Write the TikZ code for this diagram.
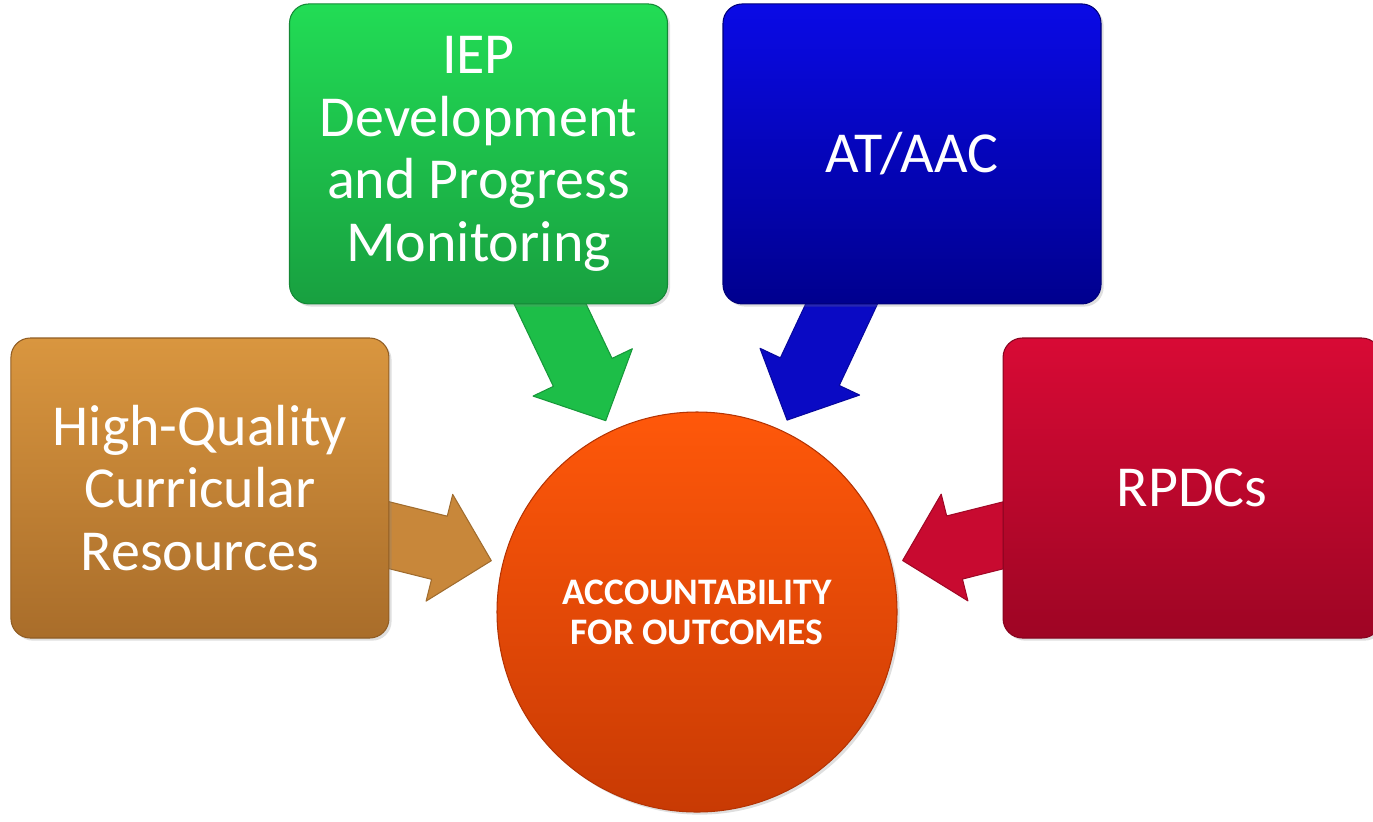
\documentclass[tikz,border=0pt]{standalone}
\usepackage{fontspec}
\setmainfont{Carlito}
\usetikzlibrary{positioning,calc,shadows,backgrounds}
\definecolor{hqtop}{HTML}{D9963F}
\definecolor{hqbot}{HTML}{A96D2A}
\definecolor{hqarrow}{HTML}{C8873A}
\definecolor{iephtop}{HTML}{22DC55}
\definecolor{iepbot}{HTML}{18A040}
\definecolor{ieparrow}{HTML}{1DBE48}
\definecolor{attop}{HTML}{0A0AE6}
\definecolor{atbot}{HTML}{00008E}
\definecolor{atarrow}{HTML}{0A0AC4}
\definecolor{rptop}{HTML}{D80A35}
\definecolor{rpbot}{HTML}{9E0524}
\definecolor{rparrow}{HTML}{C80A30}
\definecolor{goaltop}{HTML}{FF580A}
\definecolor{goalbot}{HTML}{C83A04}
\tikzset{
  topic/.style={
    draw, rounded corners=11pt, align=center, text=white,
    minimum width=75.6mm, minimum height=60mm, line width=0.6pt,
    font=\fontsize{33}{35.5}\selectfont,
    drop shadow={opacity=0.25, shadow xshift=1.5pt, shadow yshift=-1.5pt},
  },
  hqbox/.style ={topic, top color=hqtop,   bottom color=hqbot,  draw=hqbot!85!black},
  iepbox/.style={topic, top color=iephtop, bottom color=iepbot, draw=iepbot!85!black},
  atbox/.style ={topic, top color=attop,   bottom color=atbot,  draw=atbot!85!black},
  rpbox/.style ={topic, top color=rptop,   bottom color=rpbot,  draw=rpbot!85!black},
  goal/.style={
    circle, minimum size=80mm, align=center, text=white,
    top color=goaltop, bottom color=goalbot, draw=goalbot!90!black, line width=0.6pt,
    font=\fontsize{21.3}{22.7}\selectfont\bfseries,
    drop shadow={opacity=0.25, shadow xshift=1.5pt, shadow yshift=-1.5pt},
  },
}
% block arrow from the centre of #1 towards #2, tip just outside #2
\newcommand{\blockarrow}[3]{%
  \coordinate (arrtip) at ($(#2.center)!4.24cm!(#1.center)$);
  \coordinate (arrbase) at ($(arrtip)!1.07cm!(#1.center)$);
  \filldraw[fill=#3, draw=#3!80!black, line width=0.6pt, line join=round]
    ($(#1.center)!0.65cm!90:(arrtip)$) -- ($(arrbase)!0.65cm!90:(arrtip)$)
    -- ($(arrbase)!1.1cm!90:(arrtip)$) -- (arrtip)
    -- ($(arrbase)!1.1cm!-90:(arrtip)$) -- ($(arrbase)!0.65cm!-90:(arrtip)$)
    -- ($(#1.center)!0.65cm!-90:(arrtip)$) -- cycle;
}

\begin{document}
\begin{tikzpicture}
\useasboundingbox (0,0) rectangle (27.46,-16.42);

% ---------------------------------------------------------------- centre
\node[goal] (acc) at (13.94,-12.24) {ACCOUNTABILITY\\FOR OUTCOMES};

% ---------------------------------------------------------------- topics
\node[hqbox, left=21.4mm of acc, yshift=24.8mm] (hq)
  {High-Quality\\Curricular\\Resources};
\node[iepbox, above=21.4mm of acc, xshift=-43.7mm] (iep)
  {IEP\\Development\\and Progress\\Monitoring};
\node[atbox, above=21.4mm of acc, xshift=43mm] (at) {AT/AAC};
\node[rpbox, right=21mm of acc, yshift=24.8mm] (rp) {RPDCs};

% ---------------------------------------------------------------- arrows
\begin{scope}[on background layer]
  \blockarrow{hq}{acc}{hqarrow}
  \blockarrow{iep}{acc}{ieparrow}
  \blockarrow{at}{acc}{atarrow}
  \blockarrow{rp}{acc}{rparrow}
\end{scope}

\end{tikzpicture}
\end{document}
